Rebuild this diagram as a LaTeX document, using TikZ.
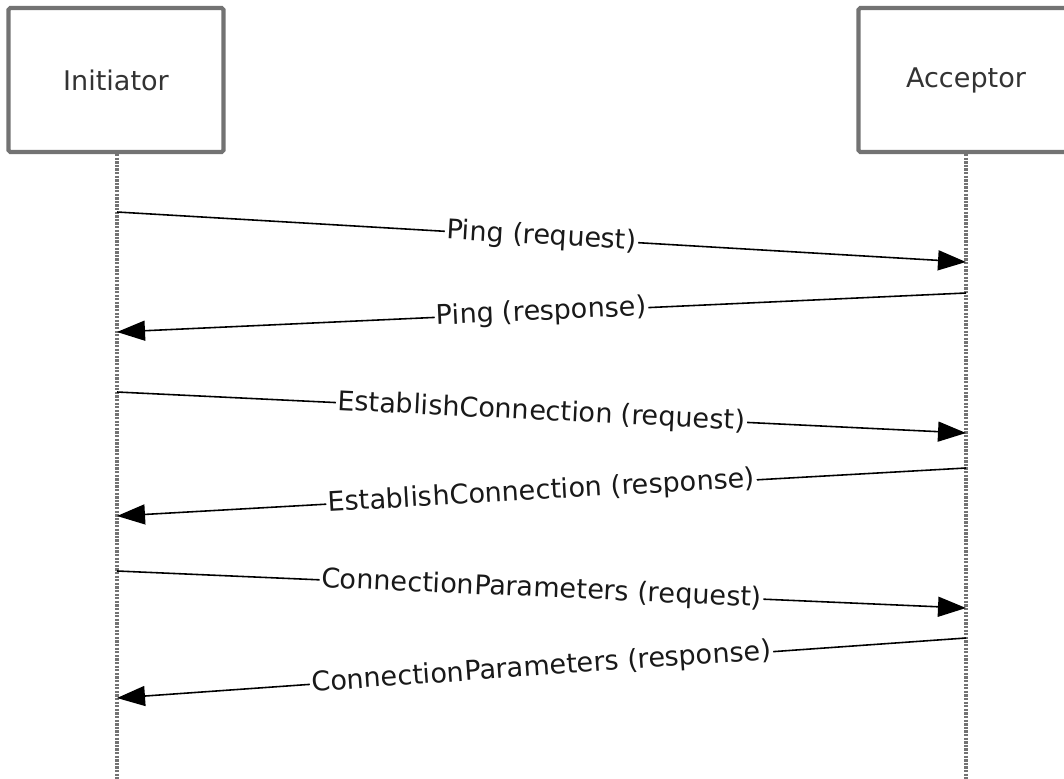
\documentclass[tikz,border=0pt]{standalone}
\usepackage{fontspec}
\setmainfont{DejaVu Sans}
\usetikzlibrary{arrows.meta}
\tikzset{
  lifebox/.style={draw=black!55,line width=2.3pt,rounded corners=1pt,minimum width=4.3cm,minimum height=2.88cm,text=black!80},
  lifeline/.style={draw=black!55,line width=1.9pt,dash pattern=on 1.3pt off 0.75pt},
  msg/.style={line width=0.9pt,-{Triangle[length=0.56cm,width=0.4cm]}},
  msglabel/.style={midway,sloped,fill=white,inner sep=1pt,text=black!90}
}
\begin{document}
\begin{tikzpicture}[font=\fontsize{15.4pt}{18pt}\selectfont]
        \clip (0,0) rectangle (21.28,-15.56);
        %% Participants
        \node[lifebox] (init) at (2.32,-1.6) {Initiator};
        \node[lifebox] (acc) at (19.32,-1.6) {Acceptor};
        %% Lifelines
        \coordinate (initend) at (2.34,-15.6);
        \coordinate (accend) at (19.32,-15.6);
        \draw[lifeline] (init.south -| initend) -- (initend);
        \draw[lifeline] (acc.south) -- (accend);
        %% Message ends
        \coordinate (i1) at (2.34,-4.24);   \coordinate (a1) at (19.32,-5.24);
        \coordinate (a2) at (19.32,-5.86);  \coordinate (i2) at (2.34,-6.64);
        \coordinate (i3) at (2.34,-7.84);   \coordinate (a3) at (19.32,-8.66);
        \coordinate (a4) at (19.32,-9.36);  \coordinate (i4) at (2.34,-10.32);
        \coordinate (i5) at (2.34,-11.42);  \coordinate (a5) at (19.32,-12.16);
        \coordinate (a6) at (19.32,-12.76); \coordinate (i6) at (2.34,-13.96);
        %% Messages
        \draw[msg] (i1) -- (a1) node[msglabel] {Ping (request)};
        \draw[msg] (a2) -- (i2) node[msglabel] {Ping (response)};
        \draw[msg] (i3) -- (a3) node[msglabel] {EstablishConnection (request)};
        \draw[msg] (a4) -- (i4) node[msglabel] {EstablishConnection (response)};
        \draw[msg] (i5) -- (a5) node[msglabel] {ConnectionParameters (request)};
        \draw[msg] (a6) -- (i6) node[msglabel] {ConnectionParameters (response)};
\end{tikzpicture}
\end{document}
